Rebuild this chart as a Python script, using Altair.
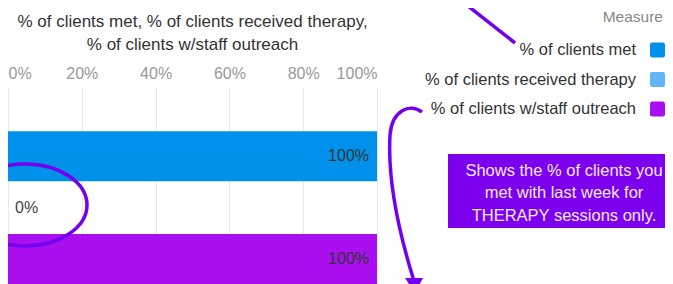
import altair as alt
import pandas as pd

# ---- data ----
measures = ["% of clients met", "% of clients received therapy", "% of clients w/staff outreach"]
values = [1.0, 0.0, 1.0]
colors = ["#0091EA", "#64B5F6", "#AA0FEF"]
x_ticks = [0, 0.2, 0.4, 0.6, 0.8, 1.0]
title_lines = ["% of clients met, % of clients received therapy,", "% of clients w/staff outreach"]
legend_title = "Measure"
callout_lines = ["Shows the % of clients you", "met with last week for", "THERAPY sessions only."]

df = pd.DataFrame({"Measure": measures, "Value": values})
one = pd.DataFrame({"k": [0]})

FONT = "Liberation Sans"
PURPLE = "#7400F0"
W, H = 369, 197

color_enc = alt.Color("Measure:N", sort=measures,
                      scale=alt.Scale(domain=measures, range=colors), legend=None)
y_enc = alt.Y("Measure:N", sort=measures, axis=None,
              scale=alt.Scale(paddingInner=0.03, paddingOuter=0.43, align=1))
x_enc = alt.X("Value:Q", scale=alt.Scale(domain=[0, 1]),
              axis=alt.Axis(orient="top", values=x_ticks, format="%", title=None,
                            domain=False, ticks=False, labelFlush=True, grid=True,
                            gridColor="#e4e9f0", labelColor="#999999", labelFontSize=16,
                            labelFont=FONT, labelPadding=6))

ROUND_SQ = ("M-1,-0.7 Q-1,-1 -0.7,-1 L0.7,-1 Q1,-1 1,-0.7 L1,0.7 Q1,1 0.7,1 "
            "L-0.7,1 Q-1,1 -1,0.7 Z")

bars = alt.Chart(df).mark_bar().encode(x=x_enc, y=y_enc, color=color_enc)

lab_hi = alt.Chart(df).transform_filter("datum.Value > 0").mark_text(
    align="right", dx=-8, baseline="middle", fontSize=16, font=FONT, color="#333333"
).encode(x="Value:Q", y=y_enc, text=alt.Text("Value:Q", format=".0%"))

lab_zero = alt.Chart(df).transform_filter("datum.Value <= 0").mark_text(
    align="left", dx=7, baseline="middle", fontSize=16, font=FONT, color="#444444"
).encode(x="Value:Q", y=y_enc, text=alt.Text("Value:Q", format=".0%"))

main = alt.layer(bars, lab_hi, lab_zero)

# ---- legend (labels left of the swatches, as in the reference) ----
leg_y = alt.Y("Measure:N", sort=measures, axis=None,
              scale=alt.Scale(type="point", range=[-37, 22], padding=0))
leg_labels = alt.Chart(df).mark_text(
    align="right", baseline="middle", fontSize=16.5, font=FONT, color="#333333"
).encode(y=leg_y, x=alt.value(628), text="Measure:N")
leg_swatches = alt.Chart(df).mark_point(
    shape=ROUND_SQ, size=225, filled=True, opacity=1, strokeWidth=0
).encode(y=leg_y, x=alt.value(649.5), color=color_enc)
leg_title = alt.Chart(one).mark_text(
    text=legend_title, align="right", baseline="middle", fontSize=15.5, font=FONT,
    color="#888888"
).encode(x=alt.value(655), y=alt.value(-70))
legend = alt.layer(leg_labels, leg_swatches, leg_title)

# ---- chart title ----
title_text = alt.Chart(one).mark_text(
    text=title_lines, align="center", baseline="alphabetic", lineHeight=23,
    fontSize=17, font=FONT, color="#333333"
).encode(x=alt.value(W / 2), y=alt.value(-60.5))

# ---- annotations (callout box, hand-drawn circle and arrows) ----
callout_box = alt.Chart(one).mark_rect(color="#7C00EE").encode(
    x=alt.value(440), x2=alt.value(680), y=alt.value(67), y2=alt.value(141))
callout_text = alt.Chart(one).mark_text(
    text=callout_lines, align="center", baseline="alphabetic", lineHeight=22.5,
    fontSize=16.5, font=FONT, color="#F3E8FF"
).encode(x=alt.value(556), y=alt.value(88.7))

ELLIPSE = "M -45 118 A 62 41 0 1 0 79 118 A 62 41 0 1 0 -45 118 Z"
ARROW1 = "M 446 -92 L 507 -44"
ARROW2 = "M 414 25 C 402 16, 384 23, 382 48 C 380 83, 387 133, 406 194"
HEAD = "M 397 191 L 415 191 L 407 206 Z"

def stroke_path(path):
    return alt.Chart(one).mark_point(shape=path, size=4, filled=False, stroke=PURPLE,
                                     strokeWidth=3.5, opacity=1).encode(
        x=alt.value(0), y=alt.value(0))

ellipse = stroke_path(ELLIPSE)
arrow1 = stroke_path(ARROW1)
arrow2 = stroke_path(ARROW2)
head = alt.Chart(one).mark_point(shape=HEAD, size=4, filled=True, fill=PURPLE,
                                 strokeWidth=0, opacity=1).encode(x=alt.value(0), y=alt.value(0))

chart = alt.layer(main, legend, title_text, callout_box, callout_text,
                  ellipse, arrow1, arrow2, head).resolve_scale(y="independent").properties(
    width=W, height=H,
    autosize=alt.AutoSizeParams(type="none"),
    padding={"left": 0, "top": 79, "right": 288, "bottom": 0},
).configure_view(stroke=None)

chart.save("out.html", embed_options={"renderer": "svg", "actions": False})
